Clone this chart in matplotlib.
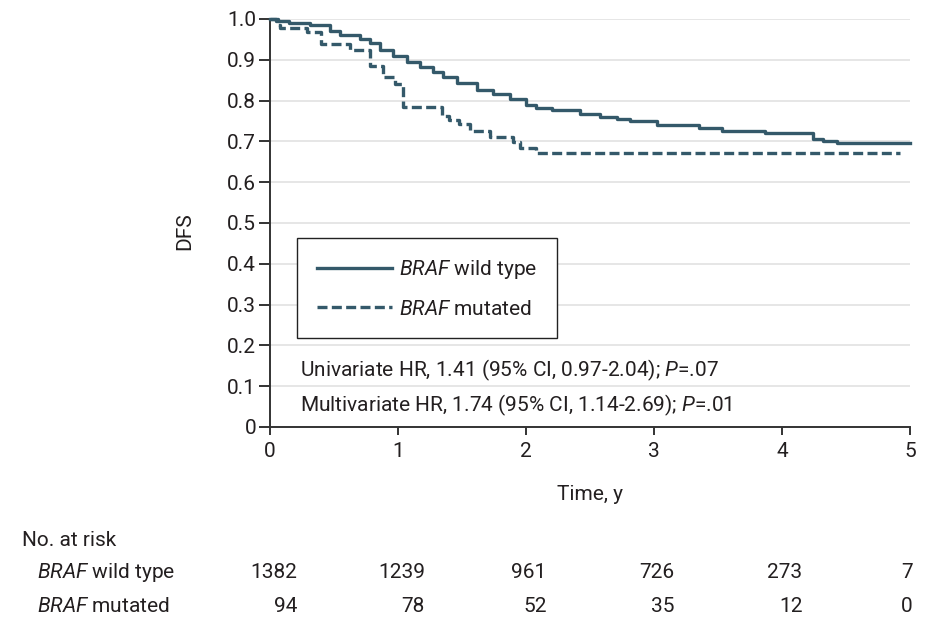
import matplotlib
matplotlib.use("Agg")
import matplotlib.pyplot as plt
import matplotlib.transforms as mtransforms

# Kaplan-Meier steps (step "post")
wt_time = [0, 0.05, 0.15, 0.31, 0.47, 0.55, 0.70, 0.78, 0.86, 0.96, 1.07, 1.17, 1.27,
           1.35, 1.46, 1.62, 1.74, 1.875, 2.0, 2.08, 2.2, 2.42, 2.58, 2.71, 2.81, 3.02,
           3.35, 3.53, 3.87, 4.24, 4.32, 4.43, 5.0]
wt_surv = [1.0, 0.995, 0.99, 0.985, 0.97, 0.96, 0.95, 0.94, 0.925, 0.91, 0.895, 0.883,
           0.87, 0.857, 0.843, 0.827, 0.815, 0.803, 0.79, 0.783, 0.776, 0.768, 0.76,
           0.755, 0.749, 0.739, 0.733, 0.726, 0.72, 0.706, 0.70, 0.695, 0.695]

mut_time = [0, 0.06, 0.08, 0.29, 0.40, 0.625, 0.78, 0.88, 0.98, 1.04, 1.34, 1.40, 1.48,
            1.56, 1.72, 1.90, 1.95, 2.08, 4.92]
mut_surv = [1.0, 0.985, 0.977, 0.967, 0.938, 0.924, 0.885, 0.857, 0.84, 0.785, 0.762,
            0.752, 0.742, 0.725, 0.71, 0.698, 0.685, 0.671, 0.671]

risk_times = [0, 1, 2, 3, 4, 5]
risk_wt = [1382, 1239, 961, 726, 273, 7]
risk_mut = [94, 78, 52, 35, 12, 0]
yticks = [0, 0.1, 0.2, 0.3, 0.4, 0.5, 0.6, 0.7, 0.8, 0.9, 1.0]
ytick_labels = ["0", "0.1", "0.2", "0.3", "0.4", "0.5", "0.6", "0.7", "0.8", "0.9", "1.0"]

plt.rcParams['font.family'] = ['Roboto', 'DejaVu Sans']
plt.rcParams['mathtext.fontset'] = 'custom'
plt.rcParams['mathtext.rm'] = 'Roboto'
plt.rcParams['mathtext.it'] = 'Roboto:italic'

line_col = "#34596a"
text_col = "#231f20"
fs = 15

fig = plt.figure(figsize=(9.3, 6.23), dpi=100)
ax = fig.add_axes([270 / 930, (623 - 427) / 623, 640 / 930, 408 / 623])

ax.step(wt_time, wt_surv, where="post", color=line_col, lw=2.4, clip_on=False,
        label=r"$\mathit{BRAF}$ wild type", zorder=3)
ax.step(mut_time, mut_surv, where="post", color=line_col, lw=2.4, clip_on=False,
        linestyle=(0, (3.0, 1.3)), label=r"$\mathit{BRAF}$ mutated", zorder=3)

ax.set_xlim(0, 5)
ax.set_ylim(0, 1.0)
ax.set_yticks(yticks)
ax.set_yticklabels(ytick_labels)
ax.set_xticks(risk_times)
ax.grid(axis="y", color="#e4e4e4", lw=1.3)
ax.set_axisbelow(True)
for s in ["top", "right"]:
    ax.spines[s].set_visible(False)
for s in ["left", "bottom"]:
    ax.spines[s].set_color("#333333")
    ax.spines[s].set_linewidth(1.4)
ax.tick_params(axis="both", direction="out", width=1.4, color="#333333",
               labelsize=fs, labelcolor=text_col)
ax.tick_params(axis="y", length=8, pad=2)
ax.tick_params(axis="x", length=6, pad=5)

ax.set_ylabel("DFS", fontsize=fs, color=text_col)
ax.yaxis.set_label_coords(-0.118, 0.48)
ax.set_xlabel("Time, y", fontsize=fs, color=text_col, labelpad=17)

leg = ax.legend(loc="upper left", bbox_to_anchor=(0.042, 0.463), fontsize=fs,
                frameon=True, fancybox=False, edgecolor="#222222", framealpha=1,
                handlelength=3.6, handletextpad=0.35, borderpad=0.95, labelspacing=0.9,
                borderaxespad=0)
leg.get_frame().set_linewidth(1.0)
for t in leg.get_texts():
    t.set_color(text_col)

ax.text(0.047, 0.138, r"Univariate HR, 1.41 (95% CI, 0.97-2.04); $\mathit{P}$=.07",
        transform=ax.transAxes, fontsize=fs, color=text_col, va="center")
ax.text(0.047, 0.052, r"Multivariate HR, 1.74 (95% CI, 1.14-2.69); $\mathit{P}$=.01",
        transform=ax.transAxes, fontsize=fs, color=text_col, va="center")

# number at risk table
risk_right = [0.21, 1.21, 2.16, 3.16, 4.16, 5.02]
trans = mtransforms.blended_transform_factory(ax.transData, fig.transFigure)
fig.text(22 / 930, 1 - 540 / 623, "No. at risk", fontsize=fs, color=text_col, va="center")
fig.text(37 / 930, 1 - 573 / 623, r"$\mathit{BRAF}$ wild type", fontsize=fs,
         color=text_col, va="center")
fig.text(37 / 930, 1 - 607 / 623, r"$\mathit{BRAF}$ mutated", fontsize=fs,
         color=text_col, va="center")
for x, a, b in zip(risk_right, risk_wt, risk_mut):
    ax.text(x, 1 - 573 / 623, str(a), transform=trans, ha="right", va="center",
            fontsize=fs, color=text_col, clip_on=False)
    ax.text(x, 1 - 607 / 623, str(b), transform=trans, ha="right", va="center",
            fontsize=fs, color=text_col, clip_on=False)

fig.savefig("out.png", dpi=100)
